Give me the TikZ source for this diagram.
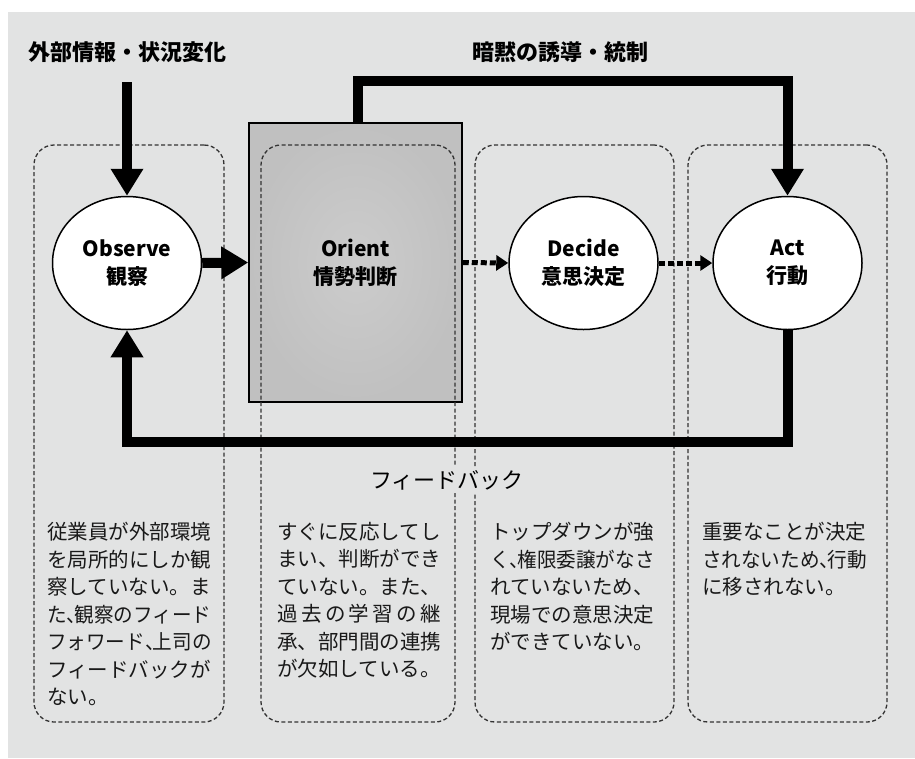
\documentclass[tikz,border=0pt]{standalone}
\usepackage{fontspec}
\usepackage{graphicx}
\setmainfont{Noto Sans CJK JP}
\usetikzlibrary{shapes.geometric,arrows.meta,calc}
\definecolor{bgc}{HTML}{E2E3E3}
\definecolor{dashc}{HTML}{333333}
\definecolor{orin}{HTML}{CCCCCC}
\definecolor{orout}{HTML}{C0C0C0}
\newcommand\halfw[1]{\makebox[0.4em][l]{#1}}
\newcommand\sqzline[1]{\scalebox{0.955}[1]{#1}}
\tikzset{
  ell/.style={ellipse, draw=black, line width=1.5pt, fill=white, minimum width=149pt, minimum height=133pt, inner sep=0pt, align=center, font=\fontsize{21}{28}\selectfont\bfseries},
  dbox/.style={draw=dashc, line width=1.3pt, dash pattern=on 4pt off 2.5pt, rounded corners=20pt, minimum height=577pt, inner sep=0pt},
  bodytext/.style={anchor=north west, inner sep=0pt, align=left, font=\fontsize{20.5}{27.5}\selectfont, text=black!90},
  titletext/.style={inner sep=0pt, font=\fontsize{22}{26}\selectfont\bfseries},
  bigarrow/.style={line width=10pt, line cap=butt, line join=miter, -{Triangle[length=27pt,width=31pt]}},
  dotarrow/.style={line width=5pt, dash pattern=on 6pt off 3pt, -{Triangle[length=12pt,width=15pt]}},
}
\begin{document}
\begin{tikzpicture}[x=1pt,y=-1pt]
\useasboundingbox (0,0) rectangle (915,758);
\fill[white] (0,0) rectangle (915,758);
\fill[bgc] (8,12) rectangle (915,758);
% Orient box
\node[draw=black, line width=1.5pt, inner color=orin, outer color=orout, minimum width=213pt, minimum height=279pt, inner sep=0pt, align=center, font=\fontsize{21}{28}\selectfont\bfseries] (orient) at (355.5,262.5) {Orient\\情勢判断};
% dashed boxes
\node[dbox, minimum width=190pt] (b1) at (129,433.5) {};
\node[dbox, minimum width=194pt] (b2) at (358,433.5) {};
\node[dbox, minimum width=199pt] (b3) at (574.5,433.5) {};
\node[dbox, minimum width=199pt] (b4) at (787.5,433.5) {};
% titles
\node[titletext] (tin) at (127,52) {外部情報・状況変化};
\node[titletext] (tctl) at (560,52) {暗黙の誘導・統制};
% ellipses
\node[ell] (obs) at (127,263) {Observe\\観察};
\node[ell] (dec) at (583.5,263) {Decide\\意思決定};
\node[ell] (act) at (787.5,263) {Act\\行動};
% connectors
\coordinate (inTop) at (127,82);
\draw[bigarrow] (inTop) -- (obs.north);
\coordinate (ctl) at (358,123);
\draw[bigarrow] (ctl) -- (358,81) -| (act.north);
\draw[bigarrow] (obs.east) -- (orient.west);
\draw[bigarrow] (act.south) -- (787.5,442) -| (obs.south);
\draw[dotarrow] (orient.east) -- (dec.west);
\draw[dotarrow] (dec.east) -- (act.west);
% feedback label
\node[fill=bgc, inner sep=3pt, font=\fontsize{22}{26}\selectfont] (fb) at (447,480) {フィードバック};
% body texts
\node[bodytext] (t1) at (47,522) {従業員が外部環境\\を局所的にしか観\\察していない。ま\\\sqzline{た\halfw{、}観察のフィード}\\\sqzline{フォワード\halfw{、}上司の}\\フィードバックが\\ない。};
\node[bodytext] (t2) at (277,522) {すぐに反応してし\\まい、判断ができ\\ていない。また、\\\makebox[164pt][s]{過\hfill 去\hfill の\hfill 学\hfill 習\hfill の\hfill 継}\\承、部門間の連携\\が欠如している。};
\node[bodytext] (t3) at (490,522) {トップダウンが強\\\sqzline{く\halfw{、}権限委譲がなさ}\\れていないため、\\現場での意思決定\\ができていない。};
\node[bodytext] (t4) at (702,522) {重要なことが決定\\\sqzline{されないため\halfw{、}行動}\\に移されない。};
\end{tikzpicture}
\end{document}
